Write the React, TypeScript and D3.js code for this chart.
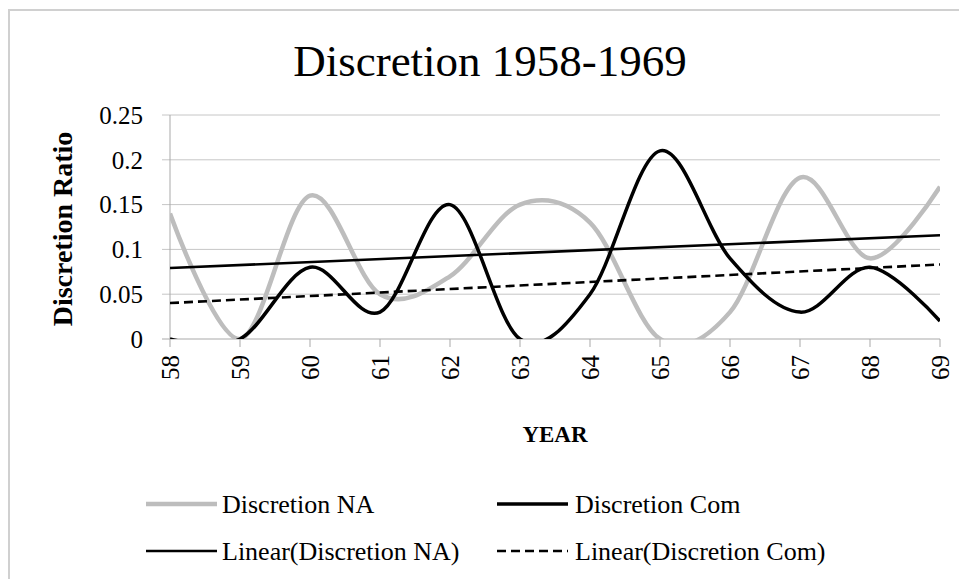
import React from "react";
import * as d3 from "d3";

const years = ["58", "59", "60", "61", "62", "63", "64", "65", "66", "67", "68", "69"];
const discretionNA = [0.14, 0, 0.16, 0.05, 0.07, 0.15, 0.13, 0, 0.03, 0.18, 0.09, 0.17];
const discretionCom = [0, 0, 0.08, 0.03, 0.15, 0, 0.05, 0.21, 0.09, 0.03, 0.08, 0.02];
const yTicks = [0, 0.05, 0.1, 0.15, 0.2, 0.25];
const yTickLabels = ["0", "0.05", "0.1", "0.15", "0.2", "0.25"];
const legendLabels = ["Discretion NA", "Discretion Com", "Linear(Discretion NA)", "Linear(Discretion Com)"];

function linearFit(vals: number[]) {
  const n = vals.length;
  const xs = vals.map((_, i) => i);
  const mx = d3.mean(xs) as number;
  const my = d3.mean(vals) as number;
  let sxy = 0, sxx = 0;
  vals.forEach((v, i) => { sxy += (i - mx) * (v - my); sxx += (i - mx) * (i - mx); });
  const slope = sxy / sxx;
  const b = my - slope * mx;
  return [b, b + slope * (n - 1)];
}

const FONT = "'Liberation Serif', 'Times New Roman', serif";

export default function App() {
  const W = 959, H = 579;
  const left = 170, right = 940, top = 115, bottom = 339;
  const x = d3.scaleLinear().domain([0, years.length - 1]).range([left, right]);
  const y = d3.scaleLinear().domain([0, 0.25]).range([bottom, top]);
  const line = d3.line<number>().x((_, i) => x(i)).y((d) => y(d)).curve(d3.curveCardinal.tension(0));
  const trendNA = linearFit(discretionNA);
  const trendCom = linearFit(discretionCom);
  const gridColor = "#c6c6c6";
  const axisColor = "#a9a9a9";

  return (
    <svg width={W} height={H} style={{ position: "absolute", left: 0, top: 0, fontFamily: FONT }}>
      <defs>
        <clipPath id="plotClip">
          <rect x={left} y={top - 10} width={right - left} height={bottom - top + 10} />
        </clipPath>
      </defs>
      <rect x={0} y={0} width={W} height={H} fill="#fff" />
      <rect x={9} y={10} width={W + 20} height={H + 20} fill="none" stroke="#d0d0d0" strokeWidth={2} />
      <text x={490} y={76} textAnchor="middle" fontSize={45} fill="#000">Discretion 1958-1969</text>

      {/* gridlines and y ticks */}
      {yTicks.map((t, i) => (
        <g key={"g" + i}>
          <line x1={left - 8} x2={right} y1={y(t)} y2={y(t)} stroke={i === 0 ? axisColor : gridColor} strokeWidth={1} />
          <text x={143} y={y(t)} dy="0.35em" textAnchor="end" fontSize={25} fill="#000">{yTickLabels[i]}</text>
        </g>
      ))}
      <line x1={left} x2={left} y1={top} y2={bottom} stroke={axisColor} strokeWidth={1} />

      {/* x ticks */}
      {years.map((yr, i) => (
        <g key={"x" + i}>
          <line x1={x(i)} x2={x(i)} y1={bottom} y2={bottom + 8} stroke={axisColor} strokeWidth={1} />
          <text transform={`translate(${x(i)},${bottom + 16}) rotate(-90)`} textAnchor="end" dy="0.35em" fontSize={25} fill="#000">{yr}</text>
        </g>
      ))}

      {/* series */}
      <g clipPath="url(#plotClip)">
        <path d={line(discretionNA) || ""} fill="none" stroke="#bdbdbd" strokeWidth={4.5} />
        <path d={line(discretionCom) || ""} fill="none" stroke="#000" strokeWidth={3.5} />
        <line x1={x(0)} x2={x(years.length - 1)} y1={y(trendNA[0])} y2={y(trendNA[1])} stroke="#000" strokeWidth={2.6} />
        <line x1={x(0)} x2={x(years.length - 1)} y1={y(trendCom[0])} y2={y(trendCom[1])} stroke="#000" strokeWidth={2.6} strokeDasharray="9,5" />
      </g>

      {/* axis titles */}
      <text transform={`translate(72,${(top + bottom) / 2 + 2}) rotate(-90)`} textAnchor="middle" fontSize={28} fontWeight="bold" fill="#000">Discretion Ratio</text>
      <text x={555} y={442} textAnchor="middle" fontSize={23} fontWeight="bold" fill="#000">YEAR</text>

      {/* legend */}
      <g>
        <line x1={146} x2={217} y1={504} y2={504} stroke="#bdbdbd" strokeWidth={4.5} />
        <text x={222} y={513} fontSize={26} fill="#000">{legendLabels[0]}</text>
        <line x1={497} x2={568} y1={504} y2={504} stroke="#000" strokeWidth={3.5} />
        <text x={575} y={513} fontSize={26} fill="#000">{legendLabels[1]}</text>
        <line x1={146} x2={217} y1={551} y2={551} stroke="#000" strokeWidth={2.6} />
        <text x={222} y={560} fontSize={26} fill="#000">{legendLabels[2]}</text>
        <line x1={497} x2={568} y1={551} y2={551} stroke="#000" strokeWidth={2.6} strokeDasharray="9,5" />
        <text x={575} y={560} fontSize={26} fill="#000">{legendLabels[3]}</text>
      </g>
    </svg>
  );
}
